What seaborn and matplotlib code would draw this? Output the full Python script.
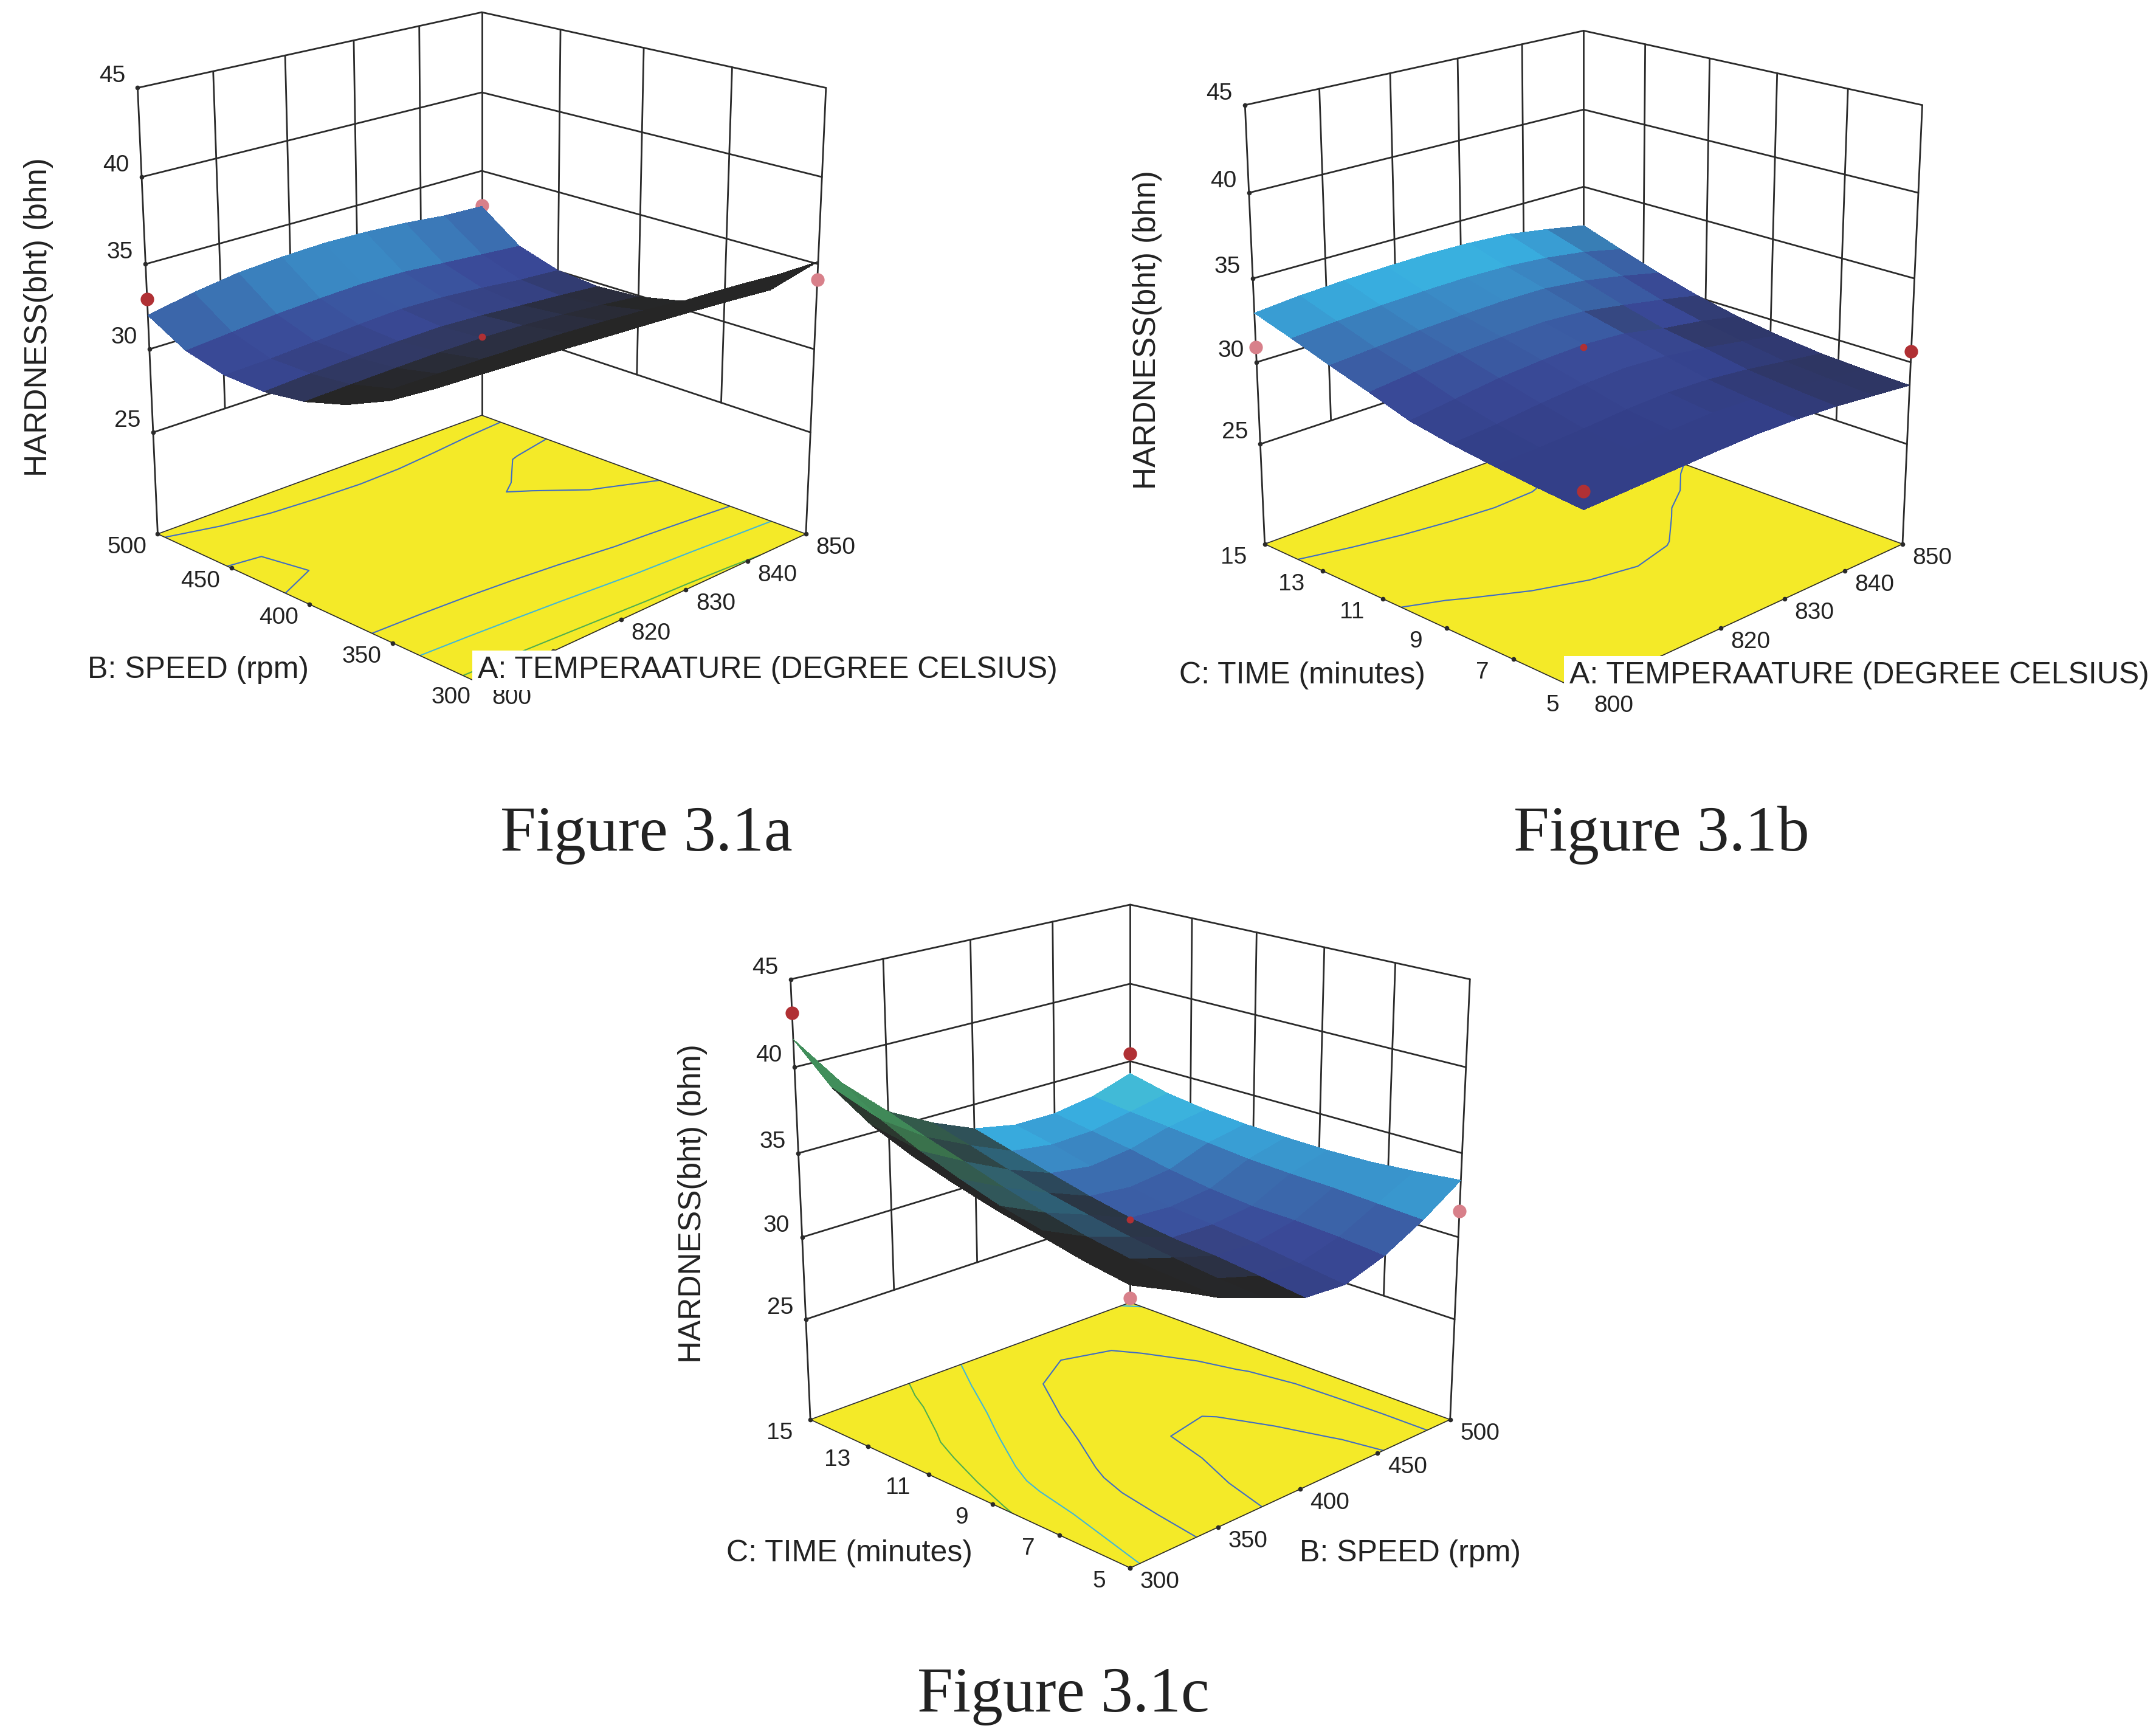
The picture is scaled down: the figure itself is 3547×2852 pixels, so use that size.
import numpy as np
import matplotlib
matplotlib.use("Agg")
import matplotlib.pyplot as plt
import seaborn as sns
from matplotlib.colors import Normalize, to_rgba
from mpl_toolkits.mplot3d import proj3d

# hardness values (rows = y axis, columns = x axis)
temp_grid = [800, 806.25, 812.5, 818.75, 825, 831.25, 837.5, 843.75, 850]
speed_grid = [300, 325, 350, 375, 400, 425, 450, 475, 500]
time_grid = [5, 6.25, 7.5, 8.75, 10, 11.25, 12.5, 13.75, 15]

hardness_a = [
    [36.25, 36.1, 35.95, 35.8, 35.65, 35.55, 35.4, 35.2, 35.15],
    [33.83, 33.73, 33.61, 33.49, 33.35, 33.22, 33.07, 32.9, 32.7],
    [32.3, 32.22, 32.13, 32.02, 31.9, 31.78, 31.66, 31.52, 31.38],
    [31.18, 31.17, 31.14, 31.1, 31.05, 30.96, 30.83, 30.67, 30.46],
    [30.45, 30.53, 30.6, 30.65, 30.65, 30.58, 30.42, 30.2, 29.93],
    [30.12, 30.27, 30.38, 30.46, 30.5, 30.37, 30.18, 30.0, 29.79],
    [30.19, 30.28, 30.45, 30.63, 30.75, 30.67, 30.47, 30.2, 30.04],
    [30.75, 31.0, 31.25, 31.4, 31.5, 31.45, 31.25, 31.05, 30.85],
    [32.0, 32.55, 32.95, 33.15, 33.25, 33.2, 33.05, 32.8, 32.7],
]
hardness_b = [
    [28.9, 29.0, 29.12, 29.23, 29.3, 29.25, 29.1, 28.85, 28.6],
    [29.1, 29.2, 29.35, 29.5, 29.6, 29.5, 29.3, 29.0, 28.7],
    [29.35, 29.45, 29.6, 29.8, 29.9, 29.8, 29.55, 29.2, 28.85],
    [29.65, 29.85, 30.15, 30.38, 30.5, 30.35, 30.02, 29.6, 29.15],
    [30.05, 30.4, 30.75, 30.95, 31.05, 30.9, 30.4, 30.05, 29.55],
    [30.8, 31.1, 31.35, 31.5, 31.6, 31.45, 31.05, 30.6, 30.1],
    [31.5, 31.7, 31.9, 32.02, 32.1, 32.08, 31.8, 31.35, 30.8],
    [32.25, 32.45, 32.6, 32.7, 32.75, 32.7, 32.5, 32.15, 31.6],
    [32.95, 33.2, 33.35, 33.45, 33.5, 33.45, 33.3, 32.9, 32.45],
]
hardness_c = [
    [34.25, 33.05, 31.75, 30.85, 29.95, 29.8, 30.6, 31.85, 33.4],
    [34.65, 33.2, 31.95, 31.05, 30.3, 30.15, 30.85, 32.0, 33.15],
    [35.2, 33.45, 32.15, 31.35, 30.6, 30.5, 31.0, 32.15, 32.95],
    [35.75, 33.75, 32.55, 31.7, 30.8, 30.75, 31.05, 32.22, 32.9],
    [36.4, 34.3, 33.1, 32.15, 31.15, 31.0, 31.3, 32.35, 32.95],
    [37.15, 35.05, 33.75, 32.65, 31.65, 31.4, 31.7, 32.6, 33.05],
    [38.1, 35.9, 34.5, 33.25, 32.25, 31.9, 32.2, 32.85, 33.25],
    [39.5, 36.95, 35.2, 33.95, 32.85, 32.5, 32.6, 33.1, 33.6],
    [41.6, 38.4, 36.0, 34.6, 33.5, 33.0, 33.0, 33.4, 34.2],
]

# contour levels on the floor
levels_a = [30.25, 31.75, 33.25, 35.25]
levels_b = [30.3, 32.3]
levels_c = [30.8, 32.4, 34, 35.6]

# design points
points_a_x = [800, 850, 850, 825]
points_a_y = [500, 300, 500, 400]
points_a_z = [32.95, 34.1, 32.75, 30.75]
points_a_kind = ["red", "pink", "pink_back", "centre"]
points_b_x = [800, 850, 825, 800]
points_b_y = [15, 5, 10, 5]
points_b_z = [30.9, 30.65, 30.9, 29.9]
points_b_kind = ["pink", "red", "centre", "red"]
points_c_x = [300, 500, 500, 400, 300]
points_c_y = [15, 15, 5, 10, 5]
points_c_z = [43.1, 35.5, 31.55, 31.05, 33.55]
points_c_kind = ["red", "red", "pink", "centre", "pink"]

temp_ticks = [800, 810, 820, 830, 840, 850]
temp_labels = [800, "", 820, 830, 840, 850]
speed_ticks = [300, 350, 400, 450, 500]
time_ticks = [5, 7, 9, 11, 13, 15]
hardness_ticks = [25, 30, 35, 40, 45]
floor_z = 18.74

sns.set_theme(style="white")
plt.rcParams["font.family"] = ["Liberation Sans", "DejaVu Sans"]

W, H = 3547, 2852
fig = plt.figure(figsize=(W / 100, H / 100), dpi=100, facecolor="white")

surface_cmap = sns.blend_palette(["#333f88", "#3a4a98", "#3b6fb0", "#38aee0", "#4cc8cc", "#50c878"], as_cmap=True)
surface_norm = Normalize(29.5, 35.4)
line_colors = {"blue": "#3f6cc4", "cyan": "#3fb6d8", "green": "#4fae4f"}
point_style = {
    "red": ("#b03034", 16, 7),
    "pink": ("#d8808a", 16, 7),
    "pink_back": ("#d8808a", 16, 4),
    "centre": ("#b03034", 8.5, 7),
}
ink = "#2a2a2a"
dark = np.array(to_rgba("#262626"))


def note(ax, x, y, z, text, dx, dy, M):
    px, py, _ = proj3d.proj_transform(x, y, z, M)
    ax.annotate(str(text), (px, py), xytext=(dx, dy), textcoords="offset pixels",
                ha="center", va="center", fontsize=28, color="#222222", annotation_clip=False)


def cell_area(X, Y, Z, M):
    # signed screen area of each mesh cell
    sx, sy, _ = proj3d.proj_transform(X.ravel(), Y.ravel(), Z.ravel(), M)
    sx = sx.reshape(X.shape)
    sy = sy.reshape(X.shape)
    a1, a2 = sx[:-1, 1:] - sx[:-1, :-1], sy[:-1, 1:] - sy[:-1, :-1]
    b1, b2 = sx[1:, :-1] - sx[:-1, :-1], sy[1:, :-1] - sy[:-1, :-1]
    return a1 * b2 - a2 * b1


def panel(centre, size, xs, ys, zs, levels, colors, xticks, xlabels, yticks, px, py, pz, pk):
    rect = [(centre[0] - size / 2) / W, (H - centre[1] - size / 2) / H, size / W, size / H]
    ax = fig.add_axes(rect, projection="3d", computed_zorder=False)
    ax.set_proj_type("persp", focal_length=0.605)
    ax.view_init(elev=19.3, azim=-135)
    xmin, xmax, ymin, ymax = xs[0], xs[-1], ys[0], ys[-1]
    zmin, zmax = hardness_ticks[0], hardness_ticks[-1]
    ax.set_xlim(xmin, xmax, view_margin=0)
    ax.set_ylim(ymin, ymax, view_margin=0)
    ax.set_zlim(floor_z, zmax, view_margin=0)
    ax.set_box_aspect((1, 1, 1.0))
    ax.set_axis_off()
    ax.patch.set_alpha(0)
    M = ax.get_proj()

    # back walls
    wall = dict(color=ink, lw=2.0, zorder=1)
    for t in hardness_ticks:
        ax.plot([xmin, xmax], [ymax, ymax], [t, t], **wall)
        ax.plot([xmax, xmax], [ymin, ymax], [t, t], **wall)
    for t in xticks[1:-1]:
        ax.plot([t, t], [ymax, ymax], [zmin, zmax], **wall)
    for t in yticks[1:-1]:
        ax.plot([xmax, xmax], [t, t], [zmin, zmax], **wall)
    ax.plot([xmin, xmin], [ymax, ymax], [floor_z, zmax], **wall)
    ax.plot([xmax, xmax], [ymax, ymax], [floor_z, zmax], **wall)
    ax.plot([xmax, xmax], [ymin, ymin], [floor_z, zmax], **wall)

    # yellow floor with the contours
    fx, fy = np.meshgrid([xmin, xmax], [ymin, ymax])
    ax.plot_surface(fx, fy, np.full(fx.shape, floor_z), color="#f4ea28", shade=False,
                    linewidth=0, antialiased=False, zorder=2)
    X, Y = np.meshgrid(xs, ys)
    Z = np.array(zs, dtype=float)
    ax.contour(X, Y, Z, levels=levels, colors=colors, zdir="z", offset=floor_z,
               linewidths=1.5, zorder=3)
    ax.plot([xmin, xmax, xmax, xmin, xmin], [ymin, ymin, ymax, ymax, ymin], [floor_z] * 5,
            color=ink, lw=1.2, zorder=3)

    # surface colour by height, going dark as cells turn edge-on and underneath
    ratio = cell_area(X, Y, Z, M) / cell_area(X, Y, np.full(Z.shape, floor_z), M)
    cell_z = (Z[:-1, :-1] + Z[1:, :-1] + Z[:-1, 1:] + Z[1:, 1:]) / 4
    faces = surface_cmap(surface_norm(cell_z))
    mix = np.clip((ratio - 0.5) / 0.5, 0, 1)[..., None]
    faces = dark + mix * (faces - dark)
    ax.plot_surface(X, Y, Z, facecolors=faces, rstride=1, cstride=1, shade=False,
                    linewidth=0, antialiased=False, zorder=5)

    for x, y, z, k in zip(px, py, pz, pk):
        c, ms, zo = point_style[k]
        ax.plot([x], [y], [z], "o", color=c, ms=ms, mec="none", zorder=zo)

    # tick dots and labels
    dot = dict(color=ink, marker="o", ms=4.5, ls="none", zorder=8)
    for t in hardness_ticks:
        ax.plot([xmin], [ymax], [t], **dot)
        note(ax, xmin, ymax, t, t, -42, 19, M)
    for t, lab in zip(xticks, xlabels):
        ax.plot([t], [ymin], [floor_z], **dot)
        note(ax, t, ymin, floor_z, lab, 49, -23, M)
    for t in yticks:
        ax.plot([xmin], [t], [floor_z], **dot)
        note(ax, xmin, t, floor_z, t, -51, -22, M)
    return ax


panel((775, 540), 1306, temp_grid, speed_grid, hardness_a, levels_a,
      [line_colors["blue"], line_colors["blue"], line_colors["cyan"], line_colors["green"]],
      temp_ticks, temp_labels, speed_ticks,
      points_a_x, points_a_y, points_a_z, points_a_kind)
panel((2588, 562), 1285, temp_grid, time_grid, hardness_b, levels_b,
      [line_colors["blue"], line_colors["blue"]],
      temp_ticks, temp_labels, time_ticks,
      points_b_x, points_b_y, points_b_z, points_b_kind)
panel((1842, 2001), 1289, speed_grid, time_grid, hardness_c, levels_c,
      [line_colors["blue"], line_colors["blue"], line_colors["cyan"], line_colors["green"]],
      speed_ticks, speed_ticks, time_ticks,
      points_c_x, points_c_y, points_c_z, points_c_kind)


def label(x, y, text, **kw):
    fig.text(x / W, 1 - y / H, text, ha="center", va="center", color="#222222", **kw)


hard_title = "HARDNESS(bht) (bhn)"
temp_title = "A: TEMPERAATURE (DEGREE CELSIUS)"
white_box = dict(facecolor="white", edgecolor="none", pad=7)
label(64, 522, hard_title, rotation=90, fontsize=37)
label(326, 1102, "B: SPEED (rpm)", fontsize=36)
label(1263, 1102, temp_title, fontsize=36, bbox=white_box, zorder=20)
label(1887, 543, hard_title, rotation=90, fontsize=37)
label(2142, 1111, "C: TIME (minutes)", fontsize=36)
label(3059, 1111, temp_title, fontsize=36, bbox=white_box, zorder=20)
label(1140, 1980, hard_title, rotation=90, fontsize=37)
label(1397, 2555, "C: TIME (minutes)", fontsize=36)
label(2320, 2555, "B: SPEED (rpm)", fontsize=36)

for x, y, cap in [(1063, 1374, "Figure 3.1a"), (2733, 1374, "Figure 3.1b"), (1749, 2790, "Figure 3.1c")]:
    label(x, y, cap, fontsize=76, family="Liberation Serif")

fig.savefig("out.png", dpi=100, facecolor="white")
